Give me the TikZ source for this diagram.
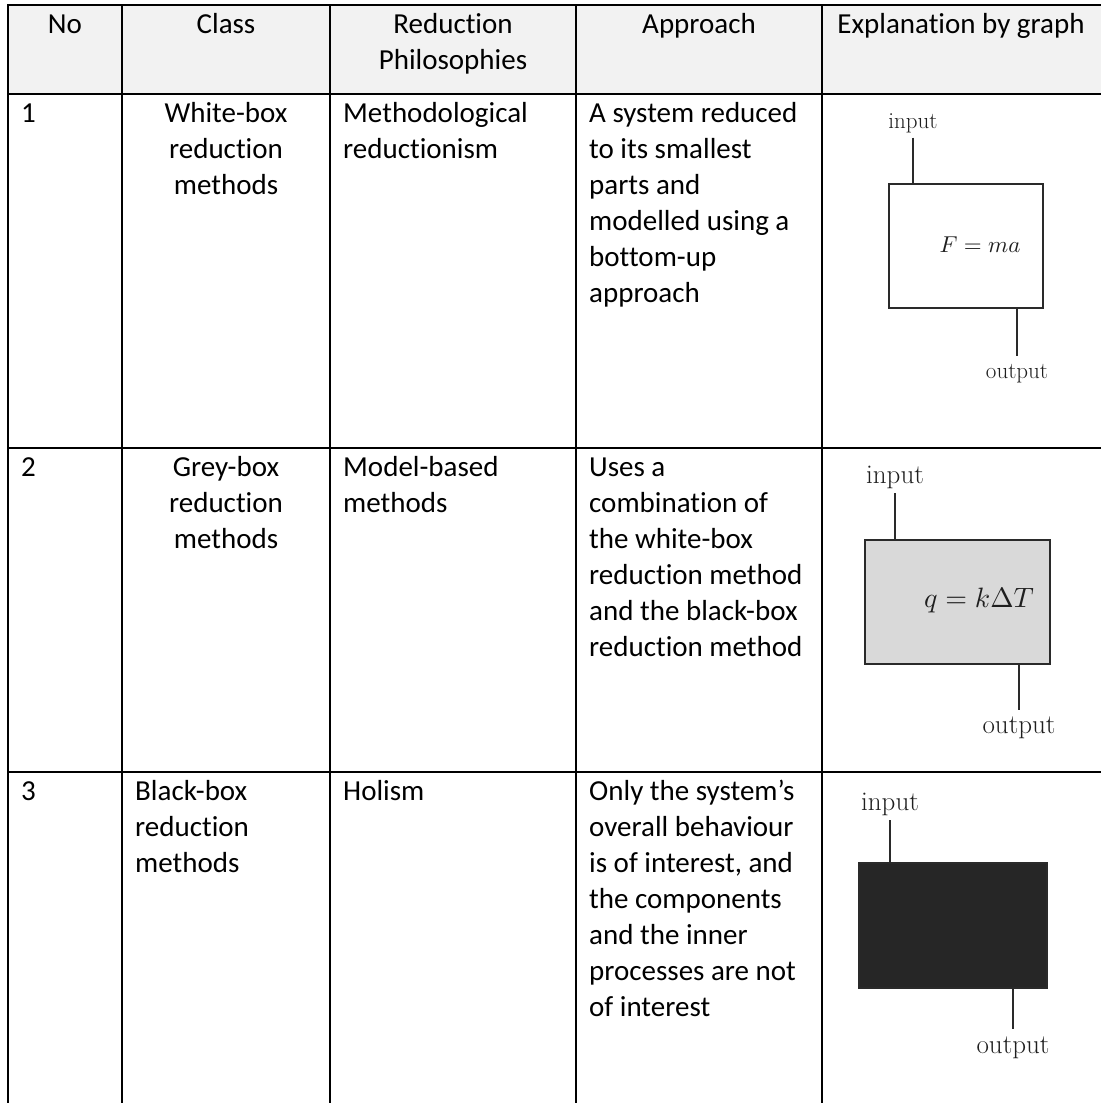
\documentclass[tikz,border=0pt]{standalone}
\usepackage{fontspec}
\newfontfamily\calibri[Ligatures={NoCommon}]{Carlito}
\newcommand\txtL[1]{\begin{tabular}[t]{@{}l@{}}#1\end{tabular}}
\newcommand\txtC[1]{\begin{tabular}[t]{@{}c@{}}#1\end{tabular}}
\definecolor{headfill}{HTML}{F2F2F2}
\definecolor{greyfill}{HTML}{D9D9D9}
\definecolor{blackfill}{HTML}{262626}
\definecolor{wirecol}{HTML}{2A2A2A}
\tikzset{
  tablerule/.style={line width=2pt, draw=black},
  thinrule/.style={line width=1.1pt, draw=black},
  celltext/.style={inner sep=0pt, anchor=base west, font=\calibri\fontsize{29}{36}\selectfont},
  centertext/.style={celltext, anchor=base},
  sysbox/.style={draw=wirecol, line width=1.6pt, inner sep=0pt, anchor=north west},
  wire/.style={draw=wirecol, line width=1.6pt},
  lblA/.style={inner sep=0pt, anchor=base, text=black!88, font=\fontsize{23}{27}\selectfont},
  lblB/.style={inner sep=0pt, anchor=base, text=black!88, font=\fontsize{27}{31}\selectfont},
  eqtext/.style={inner sep=0pt, text=black!88}
}
\begin{document}
\begin{tikzpicture}[x=1pt,y=-1pt]
\useasboundingbox (0,0) rectangle (1101,1103);
\fill[white] (0,0) rectangle (1101,1103);

% header band
\fill[headfill] (8,5) rectangle (1101,94);

% table rules
\draw[tablerule] (7,5) -- (1101,5);
\draw[tablerule] (8,94) -- (1101,94);
\foreach \yy in {448,772}{
  \draw[tablerule] (8,\yy) -- (835,\yy);
  \draw[thinrule] (835,\yy) -- (1092,\yy);
  \draw[tablerule] (1092,\yy) -- (1101,\yy);
}
\foreach \xx in {8,122,330,576,822}{
  \draw[tablerule] (\xx,5) -- (\xx,1103);
}

% header texts
\node[centertext] (hNo) at (65,33) {No};
\node[centertext] (hClass) at (226,33) {Class};
\node[centertext] (hPhil) at (453,33) {\txtC{Reduction\\Philosophies}};
\node[centertext] (hAppr) at (699,33) {Approach};
\node[centertext] (hGraph) at (961,33) {Explanation by graph};

% row 1
\node[celltext] (n1) at (21,122) {1};
\node[centertext] (c1) at (226,122) {\txtC{White-box\\reduction\\methods}};
\node[celltext] (p1) at (343,122) {\txtL{Methodological\\reductionism}};
\node[celltext] (a1) at (589,122) {\txtL{A system reduced\\to its smallest\\parts and\\modelled using a\\bottom-up\\approach}};

% row 2
\node[celltext] (n2) at (21,476) {2};
\node[centertext] (c2) at (226,476) {\txtC{Grey-box\\reduction\\methods}};
\node[celltext] (p2) at (343,476) {\txtL{Model-based\\methods}};
\node[celltext] (a2) at (589,476) {\txtL{Uses a\\combination of\\the white-box\\reduction method\\and the black-box\\reduction method}};

% row 3
\node[celltext] (n3) at (21,800) {3};
\node[celltext] (c3) at (135,800) {\txtL{Black-box\\reduction\\methods}};
\node[celltext] (p3) at (343,800) {Holism};
\node[celltext] (a3) at (589,800) {\txtL{Only the system’s\\overall behaviour\\is of interest, and\\the components\\and the inner\\processes are not\\of interest}};

% white-box system
\node[sysbox, fill=white, minimum width=154pt, minimum height=124pt] (box1) at (888,183) {};
\node[eqtext] (eq1) at (980,245) {\scalebox{2.3}{$F=ma$}};
\node[lblA] (in1) at (913,128) {input};
\node[lblA] (out1) at (1017,378) {output};
\draw[wire, shorten <=5pt] (in1.south) -- (in1.south |- box1.north);
\draw[wire, shorten >=8pt] (box1.south -| out1.north) -- (out1.north);

% grey-box system
\node[sysbox, fill=greyfill, minimum width=185pt, minimum height=124pt] (box2) at (864,539) {};
\node[eqtext] (eq2) at (979,600) {\scalebox{2.8}{$q=k\Delta T$}};
\node[lblB] (in2) at (895,483) {input};
\node[lblB] (out2) at (1019,733) {output};
\draw[wire, shorten <=5pt] (in2.south) -- (in2.south |- box2.north);
\draw[wire, shorten >=6pt] (box2.south -| out2.north) -- (out2.north);

% black-box system
\node[sysbox, fill=blackfill, minimum width=188pt, minimum height=125pt] (box3) at (858,862) {};
\node[lblB] (in3) at (890,810) {input};
\node[lblB] (out3) at (1013,1053) {output};
\draw[wire, shorten <=5pt] (in3.south) -- (in3.south |- box3.north);
\draw[wire, shorten >=7pt] (box3.south -| out3.north) -- (out3.north);
\end{tikzpicture}
\end{document}
